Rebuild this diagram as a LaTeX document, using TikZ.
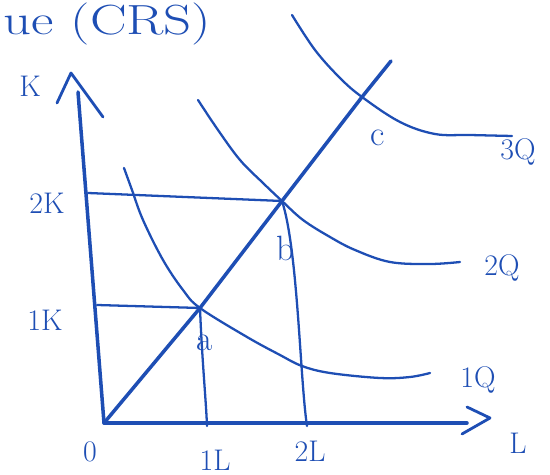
\documentclass[tikz,border=0pt]{standalone}
\definecolor{pen}{RGB}{30,78,180}
\begin{document}
\begin{tikzpicture}[x=0.02cm, y=-0.02cm, line width=1.6pt, pen, line cap=round, line join=round,
  lbl/.style={font=\fontsize{17}{17}\selectfont, text=pen, inner sep=0pt},
  pt/.style={lbl, font=\fontsize{20}{20}\selectfont},
  curve/.style={line width=1.3pt}]
  \useasboundingbox (0,0) rectangle (550,475);
  \coordinate (O) at (104,423); \coordinate (Ktop) at (78,92); \coordinate (Lend) at (467,423);
  \coordinate (a) at (200,308); \coordinate (b) at (282,201); \coordinate (c) at (362,97);
  \coordinate (top) at (391,61);
  \coordinate (k1) at (97,305); \coordinate (k2) at (88,193);
  \coordinate (l1) at (207,426); \coordinate (l2) at (307,426);
  % axes
  \draw[line width=2pt] (O) -- (Ktop);
  \draw[line width=2pt] (O) -- (Lend);
  \draw (57,103) .. controls (64,88) .. (71,73) -- (103,117);
  \draw (462,434) -- (490,418) -- (467,407);
  % ray
  \draw[line width=2pt] (O) -- (a) -- (b) -- (c) -- (top);
  % guide lines
  \draw[curve] (k2) -- (b);
  \draw[curve] (k1) -- (a);
  \draw[curve] (a) .. controls (202,360) and (206,400) .. (l1);
  \draw[curve] (b) .. controls (298,250) and (300,380) .. (l2);
  % isoquants
  \draw[curve] plot[smooth, tension=0.6] coordinates {(124,168) (132,190) (143,220) (163,260) (183,290) (200,308) (247,337) (280,355) (302,366) (330,373) (380,378) (410,377) (430,373)};
  \draw[curve] plot[smooth, tension=0.6] coordinates {(198,100) (218,130) (240,160) (263,183) (282,201) (303,220) (330,237) (355,250) (390,262) (430,264) (460,262)};
  \draw[curve] plot[smooth, tension=0.6] coordinates {(292,15) (315,50) (340,78) (362,97) (400,122) (435,134) (470,135) (512,136)};
  % labels
  \node[lbl, anchor=west, font=\fontsize{24}{24}\selectfont, xscale=1.3] (title) at (2,24) {ue (CRS)};
  \node[lbl] (K) at (30,86) {K};
  \node[lbl] (L) at (518,443) {L};
  \node[lbl] (zero) at (90,452) {0};
  \node[lbl] (oneK) at (45,320) {1K};
  \node[lbl] (twoK) at (47,203) {2K};
  \node[lbl] (oneL) at (215,460) {1L};
  \node[lbl] (twoL) at (310,451) {2L};
  \node[pt] (la) at (205,343) {a};
  \node[pt] (lb) at (285,248) {b};
  \node[pt] (lc) at (378,138) {c};
  \node[lbl] (q1) at (478,380) {1Q};
  \node[lbl] (q2) at (502,268) {2Q};
  \node[lbl] (q3) at (518,152) {3Q};
\end{tikzpicture}
\end{document}
